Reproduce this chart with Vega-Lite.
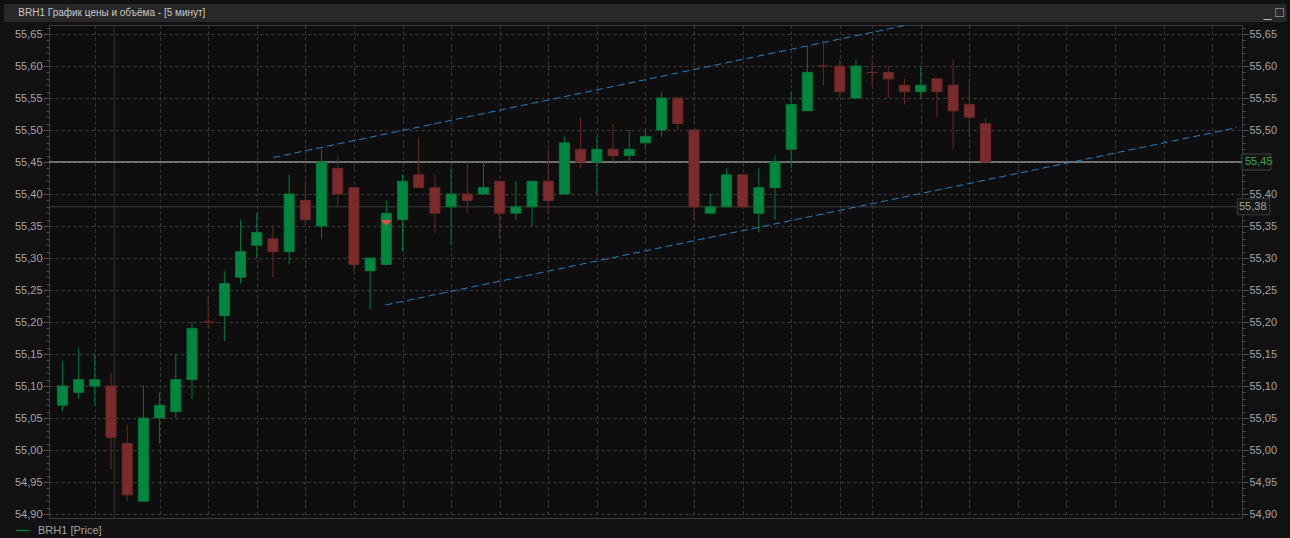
{
  "$schema": "https://vega.github.io/schema/vega-lite/v6.json",
  "width": 1193,
  "height": 493,
  "autosize": {"type": "none"},
  "padding": {"left": 49, "top": 25, "right": 48, "bottom": 20},
  "background": "#111111",
  "config": {
    "font": "Liberation Sans",
    "view": {"fill": "#0e0e0e", "stroke": "#3a3a3a"}
  },
  "datasets": {
    "candles": [
      {"i":0,"o":55.07,"h":55.14,"l":55.06,"c":55.10},
      {"i":1,"o":55.09,"h":55.16,"l":55.08,"c":55.11},
      {"i":2,"o":55.10,"h":55.15,"l":55.07,"c":55.11},
      {"i":3,"o":55.10,"h":55.12,"l":54.97,"c":55.02},
      {"i":4,"o":55.01,"h":55.04,"l":54.92,"c":54.93},
      {"i":5,"o":54.92,"h":55.10,"l":54.92,"c":55.05},
      {"i":6,"o":55.05,"h":55.09,"l":55.01,"c":55.07},
      {"i":7,"o":55.06,"h":55.15,"l":55.05,"c":55.11},
      {"i":8,"o":55.11,"h":55.20,"l":55.08,"c":55.19},
      {"i":9,"o":55.20,"h":55.24,"l":55.19,"c":55.20},
      {"i":10,"o":55.21,"h":55.28,"l":55.17,"c":55.26},
      {"i":11,"o":55.27,"h":55.36,"l":55.26,"c":55.31},
      {"i":12,"o":55.32,"h":55.37,"l":55.30,"c":55.34},
      {"i":13,"o":55.33,"h":55.35,"l":55.27,"c":55.31},
      {"i":14,"o":55.31,"h":55.43,"l":55.29,"c":55.40},
      {"i":15,"o":55.39,"h":55.42,"l":55.35,"c":55.36},
      {"i":16,"o":55.35,"h":55.47,"l":55.33,"c":55.45},
      {"i":17,"o":55.44,"h":55.46,"l":55.38,"c":55.40},
      {"i":18,"o":55.41,"h":55.41,"l":55.28,"c":55.29},
      {"i":19,"o":55.28,"h":55.30,"l":55.22,"c":55.30},
      {"i":20,"o":55.29,"h":55.39,"l":55.29,"c":55.37},
      {"i":21,"o":55.36,"h":55.43,"l":55.31,"c":55.42},
      {"i":22,"o":55.43,"h":55.49,"l":55.41,"c":55.41},
      {"i":23,"o":55.41,"h":55.43,"l":55.34,"c":55.37},
      {"i":24,"o":55.38,"h":55.44,"l":55.32,"c":55.40},
      {"i":25,"o":55.40,"h":55.45,"l":55.37,"c":55.39},
      {"i":26,"o":55.40,"h":55.45,"l":55.40,"c":55.41},
      {"i":27,"o":55.42,"h":55.42,"l":55.33,"c":55.37},
      {"i":28,"o":55.37,"h":55.42,"l":55.36,"c":55.38},
      {"i":29,"o":55.38,"h":55.42,"l":55.35,"c":55.42},
      {"i":30,"o":55.42,"h":55.47,"l":55.37,"c":55.39},
      {"i":31,"o":55.40,"h":55.49,"l":55.40,"c":55.48},
      {"i":32,"o":55.47,"h":55.52,"l":55.44,"c":55.45},
      {"i":33,"o":55.45,"h":55.49,"l":55.40,"c":55.47},
      {"i":34,"o":55.47,"h":55.51,"l":55.45,"c":55.46},
      {"i":35,"o":55.46,"h":55.50,"l":55.45,"c":55.47},
      {"i":36,"o":55.48,"h":55.50,"l":55.47,"c":55.49},
      {"i":37,"o":55.50,"h":55.56,"l":55.49,"c":55.55},
      {"i":38,"o":55.55,"h":55.55,"l":55.50,"c":55.51},
      {"i":39,"o":55.50,"h":55.50,"l":55.36,"c":55.38},
      {"i":40,"o":55.37,"h":55.40,"l":55.37,"c":55.38},
      {"i":41,"o":55.38,"h":55.44,"l":55.38,"c":55.43},
      {"i":42,"o":55.43,"h":55.43,"l":55.38,"c":55.38},
      {"i":43,"o":55.37,"h":55.44,"l":55.34,"c":55.41},
      {"i":44,"o":55.41,"h":55.46,"l":55.36,"c":55.45},
      {"i":45,"o":55.47,"h":55.56,"l":55.44,"c":55.54},
      {"i":46,"o":55.53,"h":55.63,"l":55.53,"c":55.59},
      {"i":47,"o":55.60,"h":55.64,"l":55.57,"c":55.60},
      {"i":48,"o":55.60,"h":55.61,"l":55.55,"c":55.56},
      {"i":49,"o":55.55,"h":55.61,"l":55.55,"c":55.60},
      {"i":50,"o":55.59,"h":55.61,"l":55.57,"c":55.59},
      {"i":51,"o":55.59,"h":55.60,"l":55.55,"c":55.58},
      {"i":52,"o":55.57,"h":55.58,"l":55.54,"c":55.56},
      {"i":53,"o":55.56,"h":55.60,"l":55.55,"c":55.57},
      {"i":54,"o":55.58,"h":55.58,"l":55.52,"c":55.56},
      {"i":55,"o":55.57,"h":55.61,"l":55.47,"c":55.53},
      {"i":56,"o":55.54,"h":55.58,"l":55.49,"c":55.52},
      {"i":57,"o":55.51,"h":55.52,"l":55.45,"c":55.45}
    ],
    "levels": [
      {"price": 55.45, "kind": "last"},
      {"price": 55.38, "kind": "level"}
    ],
    "channel": [
      {"line": "upper", "i": 13.0, "p": 55.457},
      {"line": "upper", "i": 52.14, "p": 55.664},
      {"line": "lower", "i": 19.95, "p": 55.2266},
      {"line": "lower", "i": 72.53, "p": 55.5037}
    ],
    "marker": [{"i": 20, "price": 55.355}],
    "separator": [{"i": 3.2}],
    "lastLabel": [{"label": "55,45", "x1": 72.84, "x2": 74.62, "y1": 55.4625, "y2": 55.4375, "price": 55.45, "xt": 72.53}],
    "levelLabel": [{"label": "55,38", "x1": 72.55, "x2": 74.55, "y1": 55.3925, "y2": 55.3675, "price": 55.38, "xt": 72.53}],
    "titlebar": [{"x1": -3.6, "x2": 75.6, "y1": 55.6969, "y2": 55.6688, "xt": -2.72, "xb": 74.8, "yb": 55.6828, "title": "BRH1 График цены и объёма - [5 минут]"}]
  },
  "resolve": {"axis": {"x": "independent", "y": "independent"}},
  "layer": [
    {
      "data": {"name": "titlebar"},
      "mark": {"type": "rect", "fill": "#282828", "clip": false},
      "encoding": {
        "x": {"field": "x1", "type": "quantitative", "scale": {"domain": [-0.52, 72.53], "nice": false, "zero": false}, "axis": null},
        "x2": {"field": "x2"},
        "y": {"field": "y1", "type": "quantitative", "scale": {"domain": [54.8938, 55.6641], "nice": false, "zero": false}, "axis": null},
        "y2": {"field": "y2"}
      }
    },
    {
      "data": {"name": "titlebar"},
      "mark": {"type": "text", "color": "#c9c9c9", "fontSize": 10, "align": "left", "baseline": "middle", "clip": false},
      "encoding": {
        "x": {"field": "xt", "type": "quantitative", "scale": {"domain": [-0.52, 72.53], "nice": false, "zero": false}, "axis": null},
        "y": {"field": "yb", "type": "quantitative", "scale": {"domain": [54.8938, 55.6641], "nice": false, "zero": false}, "axis": null},
        "text": {"field": "title"}
      }
    },
    {
      "data": {"name": "titlebar"},
      "mark": {"type": "text", "text": "_    □", "color": "#bdbdbd", "fontSize": 14, "align": "center", "baseline": "middle", "clip": false},
      "encoding": {
        "x": {"field": "xb", "type": "quantitative", "scale": {"domain": [-0.52, 72.53], "nice": false, "zero": false}, "axis": null},
        "y": {"field": "yb", "type": "quantitative", "scale": {"domain": [54.8938, 55.6641], "nice": false, "zero": false}, "axis": null}
      }
    },
    {
      "data": {"name": "separator"},
      "mark": {"type": "rule", "stroke": "#343434", "strokeWidth": 1},
      "encoding": {
        "x": {"field": "i", "type": "quantitative", "scale": {"domain": [-0.52, 72.53], "nice": false, "zero": false}, "axis": null}
      }
    },
    {
      "data": {"name": "levels"},
      "mark": {"type": "rule"},
      "encoding": {
        "y": {"field": "price", "type": "quantitative", "scale": {"domain": [54.8938, 55.6641], "nice": false, "zero": false},
          "axis": {"orient": "left", "values": [54.9,54.91,54.92,54.93,54.94,54.95,54.96,54.97,54.98,54.99,55,55.01,55.02,55.03,55.04,55.05,55.06,55.07,55.08,55.09,55.1,55.11,55.12,55.13,55.14,55.15,55.16,55.17,55.18,55.19,55.2,55.21,55.22,55.23,55.24,55.25,55.26,55.27,55.28,55.29,55.3,55.31,55.32,55.33,55.34,55.35,55.36,55.37,55.38,55.39,55.4,55.41,55.42,55.43,55.44,55.45,55.46,55.47,55.48,55.49,55.5,55.51,55.52,55.53,55.54,55.55,55.56,55.57,55.58,55.59,55.6,55.61,55.62,55.63,55.64,55.65,55.66], "labels": false, "tickSize": 3, "tickColor": "#4a4a4a", "domain": false, "grid": false, "title": null}},
        "stroke": {"condition": {"test": "datum.kind == 'last'", "value": "#8e8e8e"}, "value": "#3e3e3e"},
        "strokeWidth": {"condition": {"test": "datum.kind == 'last'", "value": 1.5}, "value": 1}
      }
    },
    {
      "data": {"name": "channel"},
      "mark": {"type": "line", "stroke": "#1f7fc4", "strokeWidth": 1, "strokeDash": [7, 4], "clip": true},
      "encoding": {
        "x": {"field": "i", "type": "quantitative", "scale": {"domain": [-0.52, 72.53], "nice": false, "zero": false}, "axis": null},
        "y": {"field": "p", "type": "quantitative", "scale": {"domain": [54.8938, 55.6641], "nice": false, "zero": false},
          "axis": {"orient": "right", "values": [54.9,54.91,54.92,54.93,54.94,54.95,54.96,54.97,54.98,54.99,55,55.01,55.02,55.03,55.04,55.05,55.06,55.07,55.08,55.09,55.1,55.11,55.12,55.13,55.14,55.15,55.16,55.17,55.18,55.19,55.2,55.21,55.22,55.23,55.24,55.25,55.26,55.27,55.28,55.29,55.3,55.31,55.32,55.33,55.34,55.35,55.36,55.37,55.38,55.39,55.4,55.41,55.42,55.43,55.44,55.45,55.46,55.47,55.48,55.49,55.5,55.51,55.52,55.53,55.54,55.55,55.56,55.57,55.58,55.59,55.6,55.61,55.62,55.63,55.64,55.65,55.66], "labels": false, "tickSize": 3, "tickColor": "#4a4a4a", "domain": false, "grid": false, "title": null}},
        "detail": {"field": "line"}
      }
    },
    {
      "data": {"name": "candles"},
      "transform": [{"calculate": "datum.c > datum.o ? 'up' : 'down'", "as": "dir"}],
      "mark": {"type": "rule", "strokeWidth": 1},
      "encoding": {
        "x": {"field": "i", "type": "quantitative", "scale": {"domain": [-0.52, 72.53], "nice": false, "zero": false},
          "axis": {"values": [2,6,9,12,15,18,21,24,27,30,33,36,39,42,45,48,50,53,56,59,62,65,68,71], "grid": true, "gridColor": "#3a3a3a", "gridDash": [3, 3], "labels": false, "ticks": false, "domain": false, "title": null}},
        "y": {"field": "l", "type": "quantitative", "scale": {"domain": [54.8938, 55.6641], "nice": false, "zero": false},
          "axis": {"orient": "left", "values": [54.9,54.95,55,55.05,55.1,55.15,55.2,55.25,55.3,55.35,55.4,55.45,55.5,55.55,55.6,55.65], "labelExpr": "replace(format(datum.value, '.2f'), '.', ',')", "labelColor": "#a3a3a3", "labelFont": "Liberation Sans", "labelFontSize": 11, "labelPadding": 1, "tickSize": 6, "tickColor": "#555555", "domain": false, "grid": true, "gridColor": "#3a3a3a", "gridDash": [3, 3], "title": null}},
        "y2": {"field": "h"},
        "stroke": {"field": "dir", "type": "nominal", "scale": {"domain": ["up", "down"], "range": ["#00773a", "#6e2626"]},
          "legend": {"values": ["up"], "labelExpr": "'BRH1 [Price]'", "title": null, "orient": "none", "legendX": -34, "legendY": 498, "symbolType": "stroke", "symbolSize": 170, "symbolStrokeWidth": 1.5, "labelColor": "#a3a3a3", "labelFontSize": 11, "labelFont": "Liberation Sans", "labelOffset": 8}}
      }
    },
    {
      "data": {"name": "candles"},
      "transform": [{"calculate": "datum.c > datum.o ? 'up' : 'down'", "as": "dir"}],
      "mark": {"type": "bar", "size": 10, "strokeWidth": 1},
      "encoding": {
        "x": {"field": "i", "type": "quantitative", "scale": {"domain": [-0.52, 72.53], "nice": false, "zero": false}, "axis": null},
        "y": {"field": "o", "type": "quantitative", "scale": {"domain": [54.8938, 55.6641], "nice": false, "zero": false},
          "axis": {"orient": "right", "values": [54.9,54.95,55,55.05,55.1,55.15,55.2,55.25,55.3,55.35,55.4,55.45,55.5,55.55,55.6,55.65], "labelExpr": "abs(datum.value - 55.45) < 0.001 ? '' : replace(format(datum.value, '.2f'), '.', ',')", "labelColor": "#a3a3a3", "labelFont": "Liberation Sans", "labelFontSize": 11, "labelPadding": 1, "tickSize": 6, "tickColor": "#555555", "domain": false, "grid": false, "title": null}},
        "y2": {"field": "c"},
        "fill": {"field": "dir", "type": "nominal", "scale": {"domain": ["up", "down"], "range": ["#00873f", "#7b2b2b"]}, "legend": null},
        "stroke": {"field": "dir", "type": "nominal"}
      }
    },
    {
      "data": {"name": "marker"},
      "mark": {"type": "point", "shape": "M-1,-0.5L1,-0.5L0,0.5Z", "filled": true, "fill": "#f04a4a", "size": 121, "opacity": 1, "strokeWidth": 0},
      "encoding": {
        "x": {"field": "i", "type": "quantitative", "scale": {"domain": [-0.52, 72.53], "nice": false, "zero": false}, "axis": null},
        "y": {"field": "price", "type": "quantitative", "scale": {"domain": [54.8938, 55.6641], "nice": false, "zero": false}, "axis": null}
      }
    },
    {
      "data": {"name": "lastLabel"},
      "mark": {"type": "rect", "fill": "#121212", "stroke": "#3c4a3c", "strokeWidth": 1, "clip": false},
      "encoding": {
        "x": {"field": "x1", "type": "quantitative", "scale": {"domain": [-0.52, 72.53], "nice": false, "zero": false}, "axis": null},
        "x2": {"field": "x2"},
        "y": {"field": "y1", "type": "quantitative", "scale": {"domain": [54.8938, 55.6641], "nice": false, "zero": false}, "axis": null},
        "y2": {"field": "y2"}
      }
    },
    {
      "data": {"name": "lastLabel"},
      "mark": {"type": "text", "align": "left", "baseline": "middle", "dx": 8, "color": "#2fa84c", "fontSize": 11, "font": "Liberation Sans", "clip": false},
      "encoding": {
        "x": {"field": "xt", "type": "quantitative", "scale": {"domain": [-0.52, 72.53], "nice": false, "zero": false}, "axis": null},
        "y": {"field": "price", "type": "quantitative", "scale": {"domain": [54.8938, 55.6641], "nice": false, "zero": false}, "axis": null},
        "text": {"field": "label"}
      }
    },
    {
      "data": {"name": "levelLabel"},
      "mark": {"type": "rect", "fill": "#161616", "stroke": "#3a3a3a", "strokeWidth": 1, "clip": false},
      "encoding": {
        "x": {"field": "x1", "type": "quantitative", "scale": {"domain": [-0.52, 72.53], "nice": false, "zero": false}, "axis": null},
        "x2": {"field": "x2"},
        "y": {"field": "y1", "type": "quantitative", "scale": {"domain": [54.8938, 55.6641], "nice": false, "zero": false}, "axis": null},
        "y2": {"field": "y2"}
      }
    },
    {
      "data": {"name": "levelLabel"},
      "mark": {"type": "text", "align": "left", "baseline": "middle", "dx": 2, "color": "#a3a3a3", "fontSize": 11, "font": "Liberation Sans", "clip": false},
      "encoding": {
        "x": {"field": "xt", "type": "quantitative", "scale": {"domain": [-0.52, 72.53], "nice": false, "zero": false}, "axis": null},
        "y": {"field": "price", "type": "quantitative", "scale": {"domain": [54.8938, 55.6641], "nice": false, "zero": false}, "axis": null},
        "text": {"field": "label"}
      }
    }
  ]
}
